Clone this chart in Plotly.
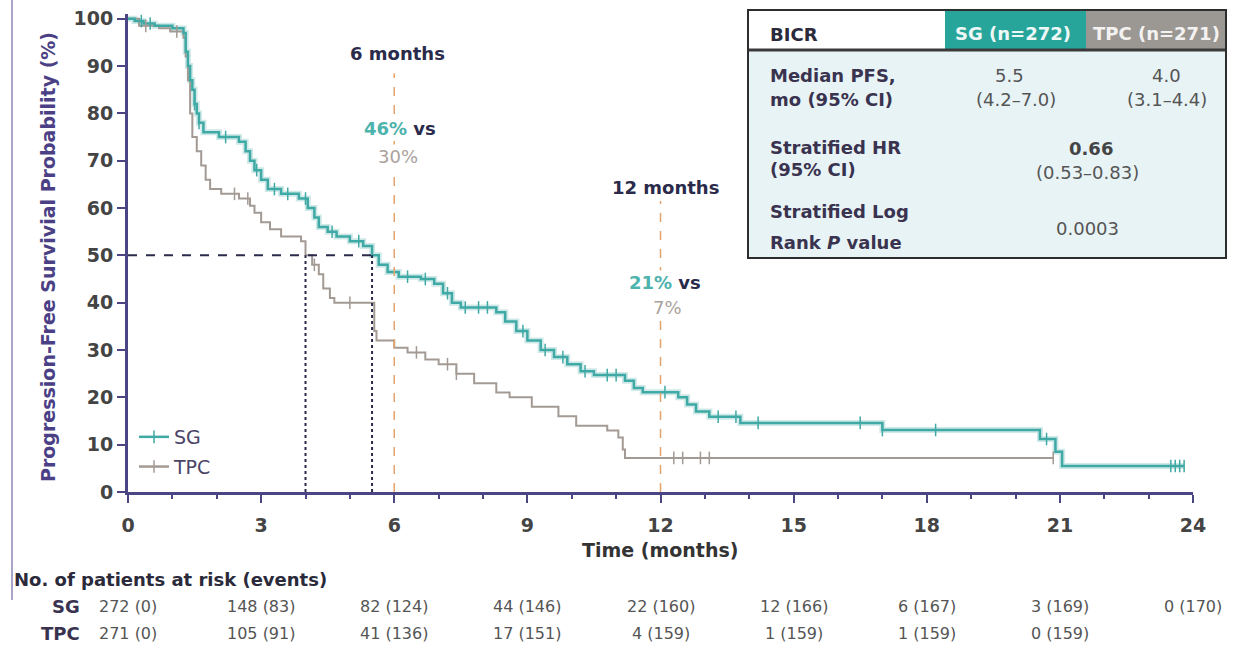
import numpy as np
import plotly.graph_objects as go

# ---------------- data ----------------
sg_time = [0, 0.15, 0.35, 0.6, 1.0, 1.25, 1.3, 1.35, 1.4, 1.45, 1.5, 1.55, 1.6, 1.7,
           2.05, 2.5, 2.65, 2.75, 2.85, 3.0, 3.15, 3.45, 3.85, 4.05, 4.2, 4.3, 4.5,
           4.7, 5.0, 5.3, 5.5, 5.65, 5.85, 6.1, 6.6, 6.9, 7.1, 7.3, 7.5, 8.3, 8.5,
           8.75, 9.0, 9.3, 9.6, 9.9, 10.2, 10.5, 11.2, 11.4, 11.6, 12.4, 12.6, 12.8,
           13.1, 13.8, 17.0, 20.55, 20.9, 21.05, 23.8]
sg_surv = [100, 99.5, 99, 98.5, 98, 97, 93, 90, 87, 85, 82, 80, 78, 76,
           75, 74, 72, 70, 68, 66, 64, 63, 62, 60, 58, 56, 55,
           54, 53, 52, 50, 48, 46.5, 45.5, 45, 44, 42, 40, 39, 38, 36,
           34, 32, 30, 28.5, 27, 25.5, 24.7, 23.5, 22, 21.1, 20, 18.5, 17,
           15.9, 14.6, 13.1, 11.2, 8.5, 5.5, 5.5]

tpc_time = [0, 0.25, 0.7, 0.95, 1.25, 1.3, 1.35, 1.4, 1.45, 1.55, 1.65, 1.75, 1.85,
            2.1, 2.5, 2.75, 2.85, 3.0, 3.2, 3.45, 3.9, 4.0, 4.15, 4.3, 4.4, 4.55,
            4.65, 5.55, 5.6, 6.0, 6.3, 6.7, 7.0, 7.4, 7.8, 8.3, 8.6, 9.1, 9.7,
            10.1, 10.8, 11.05, 11.15, 11.2, 20.85]
tpc_surv = [100, 98.5, 98, 97.3, 96, 92, 87, 80, 75, 72, 69, 66, 64,
            63, 62, 60.5, 59, 57, 55.5, 54, 53, 50, 48, 46, 43, 41,
            40, 34, 32, 30.5, 29.5, 28, 27, 25, 23, 21, 20, 18, 16,
            14, 13, 11.5, 9, 7.2, 7.2]

sg_censor = [0.3, 0.5, 1.5, 1.6, 2.2, 2.9, 3.3, 3.6, 4.0, 4.6, 5.2, 6.3, 6.7, 7.2,
             7.6, 7.9, 8.1, 8.9, 9.4, 9.8, 10.3, 10.8, 11.0, 12.1, 13.3, 13.7,
             14.2, 16.5, 17.0, 18.2, 20.7, 23.5, 23.6, 23.7, 23.8]
tpc_censor = [0.4, 1.1, 2.4, 2.7, 4.2, 5.0, 6.5, 7.2, 7.4, 12.3, 12.5, 12.9, 13.1, 20.85]

x_ticks = [0, 3, 6, 9, 12, 15, 18, 21, 24]
y_ticks = [0, 10, 20, 30, 40, 50, 60, 70, 80, 90, 100]

sg_at_risk = ["272 (0)", "148 (83)", "82 (124)", "44 (146)", "22 (160)",
              "12 (166)", "6 (167)", "3 (169)", "0 (170)"]
tpc_at_risk = ["271 (0)", "105 (91)", "41 (136)", "17 (151)", "4 (159)",
               "1 (159)", "1 (159)", "0 (159)"]

medians = {"SG": 5.5, "TPC": 4.0}
landmark_sg = ["46%", "21%"]
landmark_tpc = ["30%", "7%"]

# ---------------- style ----------------
W, H = 1233, 645
L, R, T, B = 128, 40, 14, 153
pw, ph = W - L - R, H - T - B
FONT = "DejaVu Sans, Arial, sans-serif"
SG_C = "#3fa9a5"
TPC_C = "#a39a94"
AX_C = "#4b4583"
NAVY = "#2a2a4a"


def ax(px):
    return (px - L) / pw


def ay(py):
    return (H - B - py) / ph


def step_val(times, surv, t):
    i = np.searchsorted(np.array(times), t, side="right") - 1
    return surv[max(i, 0)]


fig = go.Figure()

# halo under SG
fig.add_trace(go.Scatter(x=sg_time, y=sg_surv, mode="lines", hoverinfo="skip",
                         line=dict(shape="hv", color="rgba(63,169,165,0.25)", width=6),
                         showlegend=False))
fig.add_trace(go.Scatter(x=tpc_time, y=tpc_surv, mode="lines", name="TPC",
                         line=dict(shape="hv", color=TPC_C, width=2), showlegend=False))
fig.add_trace(go.Scatter(x=sg_time, y=sg_surv, mode="lines", name="SG",
                         line=dict(shape="hv", color=SG_C, width=2.5), showlegend=False))

# censor marks
fig.add_trace(go.Scatter(x=sg_censor, y=[step_val(sg_time, sg_surv, t) for t in sg_censor],
                         mode="markers", showlegend=False,
                         marker=dict(symbol="line-ns-open", size=9, color=SG_C,
                                     line=dict(color=SG_C, width=1.5))))
fig.add_trace(go.Scatter(x=tpc_censor, y=[step_val(tpc_time, tpc_surv, t) for t in tpc_censor],
                         mode="markers", showlegend=False,
                         marker=dict(symbol="line-ns-open", size=9, color=TPC_C,
                                     line=dict(color=TPC_C, width=1.5))))

# legend dummies
for nm, col in [("SG", SG_C), ("TPC", TPC_C)]:
    fig.add_trace(go.Scatter(x=[None], y=[None], mode="lines+markers", name=nm,
                             legendgroup=nm,
                             line=dict(color=col, width=2.5),
                             marker=dict(symbol="line-ns-open", size=9, color=col,
                                         line=dict(color=col, width=1.5))))

shapes = []
# median lines
mx = max(medians.values())
shapes.append(dict(type="line", xref="x", yref="y", x0=0, x1=mx, y0=50, y1=50,
                   line=dict(color=NAVY, width=2, dash="dash")))
for v in medians.values():
    shapes.append(dict(type="line", xref="x", yref="y", x0=v, x1=v, y0=0, y1=50,
                       line=dict(color=NAVY, width=2, dash="dot")))
# landmark lines
shapes.append(dict(type="line", xref="x", yref="y", x0=6, x1=6, y0=0, y1=88.5,
                   line=dict(color="#e3a36a", width=1.5, dash="dash")))
shapes.append(dict(type="line", xref="x", yref="y", x0=12, x1=12, y0=0, y1=61.5,
                   line=dict(color="#e3a36a", width=1.5, dash="dash")))


def rect(x0, y0, x1, y1, fill, line=None):
    d = dict(type="rect", xref="paper", yref="paper", x0=ax(x0), x1=ax(x1),
             y0=ay(y1), y1=ay(y0), fillcolor=fill, layer="above")
    d["line"] = line if line else dict(width=0)
    return d


shapes.append(rect(748, 50, 1226, 258, "#e8f3f5"))
shapes.append(rect(748, 10, 945, 50, "#ffffff"))
shapes.append(rect(945, 10, 1086, 50, "#27a59b"))
shapes.append(rect(1086, 10, 1226, 50, "#9b9793"))
shapes.append(dict(type="line", xref="paper", yref="paper", x0=ax(748), x1=ax(1226),
                   y0=ay(50), y1=ay(50), line=dict(color="#3a3a3a", width=3), layer="above"))
shapes.append(rect(748, 10, 1226, 258, "rgba(0,0,0,0)", dict(color="#2d2d2d", width=2)))
# left border line
shapes.append(dict(type="line", xref="paper", yref="paper", x0=ax(12), x1=ax(12),
                   y0=ay(600), y1=ay(0), line=dict(color="#8b86b8", width=1.5)))

ann = []


def text(px, py, s, size=18, color="#333333", bold=False, xanchor="center", bg=None):
    d = dict(xref="paper", yref="paper", x=ax(px), y=ay(py), text=s, showarrow=False,
             xanchor=xanchor, yanchor="middle",
             font=dict(family=FONT, size=size, color=color, weight="bold" if bold else "normal"))
    if bg:
        d["bgcolor"] = bg
    ann.append(d)


# y-axis title
ann.append(dict(xref="paper", yref="paper", x=ax(48), y=ay(257), textangle=-90,
                text="Progression-Free Survivial Probability (%)", showarrow=False,
                xanchor="center", yanchor="middle",
                font=dict(family=FONT, size=19, color="#4b3f85", weight="bold")))
text(660, 550, "Time (months)", size=19, color="#333333", bold=True)

# landmark annotations
text(397, 53, "6 months", size=18, color=NAVY, bold=True)
text(400, 128, f"<span style='color:#4db3ad'>{landmark_sg[0]}</span> vs", size=18,
     color=NAVY, bold=True, bg="white")
text(398, 156, landmark_tpc[0], size=18, color="#aaa29c", bg="white")
text(665, 187, "12 months", size=18, color=NAVY, bold=True)
text(665, 282, f"<span style='color:#4db3ad'>{landmark_sg[1]}</span> vs", size=18,
     color=NAVY, bold=True, bg="white")
text(667, 307, landmark_tpc[1], size=18, color="#aaa29c", bg="white")

# table texts
text(768, 34, "BICR", size=18, color="#2a2a3a", bold=True, xanchor="left")
text(1013, 33, "SG (n=272)", size=18, color="#eef8f6", bold=True)
text(1156, 33, "TPC (n=271)", size=18, color="#f4f2f0", bold=True)
text(768, 76, "Median PFS,", size=18, color="#3a3350", bold=True, xanchor="left")
text(768, 99, "mo (95% CI)", size=18, color="#3a3350", bold=True, xanchor="left")
text(1009, 76, "5.5", size=18, color="#555555")
text(1016, 99, "(4.2–7.0)", size=18, color="#555555")
text(1166, 76, "4.0", size=18, color="#555555")
text(1167, 99, "(3.1–4.4)", size=18, color="#555555")
text(768, 147, "Stratified HR", size=18, color="#3a3350", bold=True, xanchor="left")
text(768, 170, "(95% CI)", size=18, color="#3a3350", bold=True, xanchor="left")
text(1091, 148, "0.66", size=18, color="#444444", bold=True)
text(1087, 172, "(0.53–0.83)", size=18, color="#555555")
text(768, 211, "Stratified Log", size=18, color="#3a3350", bold=True, xanchor="left")
text(768, 242, "Rank <i>P</i> value", size=18, color="#3a3350", bold=True, xanchor="left")
text(1087, 228, "0.0003", size=18, color="#555555")

# at risk table
text(12, 579, "No. of patients at risk (events)", size=18, color="#2a2a3a", bold=True,
     xanchor="left")
text(82, 606, "SG", size=18, color="#3a3350", bold=True, xanchor="right")
text(82, 633, "TPC", size=18, color="#3a3350", bold=True, xanchor="right")
for t, s in zip(x_ticks, sg_at_risk):
    ann.append(dict(xref="x", yref="paper", x=t, y=ay(606), text=s, showarrow=False,
                    xanchor="center", yanchor="middle",
                    font=dict(family=FONT, size=16, color="#555555")))
for t, s in zip(x_ticks, tpc_at_risk):
    ann.append(dict(xref="x", yref="paper", x=t, y=ay(633), text=s, showarrow=False,
                    xanchor="center", yanchor="middle",
                    font=dict(family=FONT, size=16, color="#555555")))

axis_common = dict(showline=True, linecolor=AX_C, linewidth=3, ticks="outside",
                   ticklen=8, tickwidth=2, tickcolor=AX_C, showgrid=False, zeroline=False,
                   tickfont=dict(family=FONT, size=19, color="#444444", weight="bold"))

fig.update_layout(
    width=W, height=H, margin=dict(l=L, r=R, t=T, b=B, autoexpand=False),
    paper_bgcolor="white", plot_bgcolor="white",
    xaxis=dict(range=[0, 24], tickvals=x_ticks, ticklabelstandoff=6,
               minor=dict(dtick=1, ticks="outside", ticklen=4, tickwidth=2, tickcolor=AX_C),
               **axis_common),
    yaxis=dict(range=[0, 101], tickvals=y_ticks, **axis_common),
    legend=dict(x=ax(134), y=ay(418), xanchor="left", yanchor="top",
                bgcolor="rgba(0,0,0,0)", tracegroupgap=2,
                font=dict(family=FONT, size=19, color="#4a4466")),
    shapes=shapes, annotations=ann,
)

fig.write_html("out.html", config={"displayModeBar": False},
               post_script="document.body.style.margin='0';document.body.style.overflow='hidden';")
